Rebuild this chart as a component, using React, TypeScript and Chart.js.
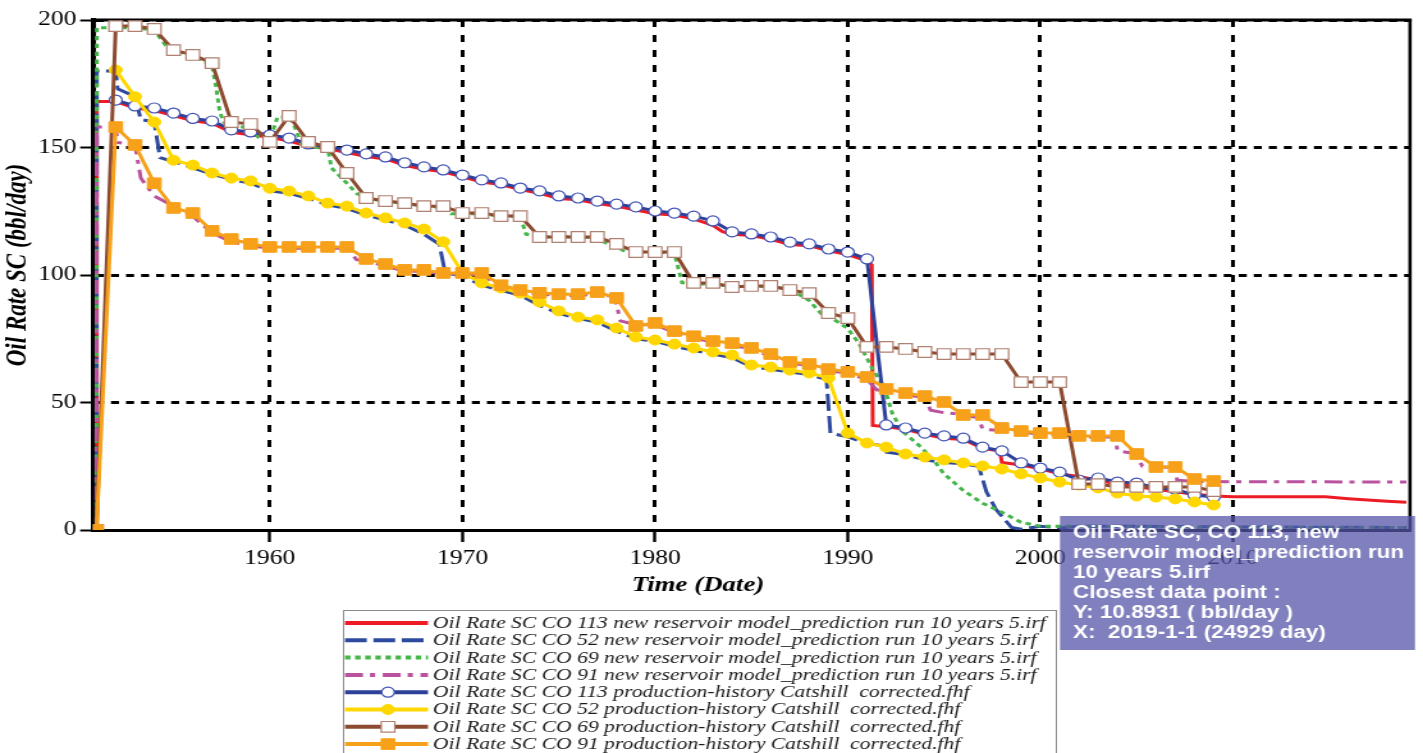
import React, { useEffect, useRef } from 'react';
import { Chart, registerables } from 'chart.js';

Chart.register(...registerables);

// ---------------- data ----------------
const xTickYears = [1960, 1970, 1980, 1990, 2000, 2010];
const yTickValues = [0, 50, 100, 150, 200];

// yearly production-history records (1 Jan of each year)
const historyYears = [
  1952, 1953, 1954, 1955, 1956, 1957, 1958, 1959,
  1960, 1961, 1962, 1963, 1964, 1965, 1966, 1967, 1968, 1969,
  1970, 1971, 1972, 1973, 1974, 1975, 1976, 1977, 1978, 1979,
  1980, 1981, 1982, 1983, 1984, 1985, 1986, 1987, 1988, 1989,
  1990, 1991, 1992, 1993, 1994, 1995, 1996, 1997, 1998, 1999,
  2000, 2001, 2002, 2003, 2004, 2005, 2006, 2007, 2008, 2009,
];
const rampYear = 1951; // zero-rate first record of CO 69 / CO 91 history

const co113History = [
  168.6, 166.3, 165.5, 163.5, 161.4, 160.4, 156.9, 156.1,
  154.9, 153.7, 151.4, 150.2, 149.0, 147.5, 146.3, 144.0, 142.4, 141.2,
  139.2, 137.3, 136.1, 134.1, 133.0, 131.0, 130.2, 129.0, 127.8, 126.7,
  125.1, 124.3, 123.1, 121.2, 116.9, 116.1, 114.9, 112.9, 112.2, 110.2,
  109.0, 106.3, 41.2, 40.0, 38.0, 36.9, 36.0, 32.5, 31.0, 26.3,
  24.3, 22.7, 19.6, 20.4, 18.8, 18.4, 16.5, 16.0, 13.7, 12.9,
];
const co52History = [
  180.4, 169.9, 160.0, 145.0, 143.1, 140.0, 138.0, 136.9,
  134.0, 132.9, 131.0, 128.2, 127.0, 124.3, 122.4, 120.4, 118.0, 113.0,
  100.8, 96.9, 94.9, 92.9, 89.4, 85.9, 83.5, 82.4, 79.2, 75.7,
  74.5, 72.9, 71.4, 69.8, 68.6, 64.7, 63.9, 62.7, 61.6, 59.6,
  38.0, 34.1, 32.5, 29.8, 28.6, 27.5, 26.3, 25.1, 23.9, 22.0,
  20.4, 18.8, 17.6, 16.5, 14.5, 13.3, 12.9, 12.2, 11.0, 9.8,
];
const co69History = [
  0,
  197.6, 197.6, 196.5, 188.2, 186.3, 183.1, 160.0, 159.2,
  152.2, 162.4, 152.2, 150.2, 140.0, 130.2, 129.0, 128.2, 127.0, 127.0,
  124.3, 124.3, 123.1, 123.1, 114.9, 114.9, 114.9, 114.9, 112.2, 109.0,
  109.0, 109.0, 96.9, 96.9, 95.3, 95.7, 95.7, 94.1, 92.9, 85.1,
  83.1, 71.8, 71.8, 71.0, 69.8, 69.0, 69.0, 69.0, 69.0, 58.0,
  58.0, 58.0, 18.0, 18.0, 16.9, 16.9, 16.9, 16.9, 16.9, 15.3,
];
const co91History = [
  0,
  158.0, 151.0, 136.0, 126.3, 124.3, 117.3, 114.1, 112.2,
  111.0, 111.0, 111.0, 111.0, 111.0, 106.3, 104.3, 102.0, 102.0, 100.8,
  100.8, 100.8, 96.0, 94.1, 93.0, 92.5, 92.5, 93.3, 91.0, 80.0,
  81.2, 78.0, 76.0, 74.1, 73.3, 71.4, 69.0, 65.9, 65.1, 63.1,
  62.0, 60.0, 55.3, 53.7, 52.5, 50.2, 45.1, 45.1, 40.0, 38.8,
  38.0, 38.0, 36.9, 36.9, 36.9, 29.8, 24.7, 24.7, 20.0, 19.2,
];

// prediction runs: [year, rate]
const co113Prediction = [
  [1951, 0], [1951.02, 168], [1952, 168], [1953, 165.5], [1954, 164.5], [1955, 162.5], [1956, 160.5],
  [1957, 159.5], [1958, 156], [1959, 155], [1960, 154], [1961, 152.5], [1962, 150.5], [1963, 149.5],
  [1964, 148], [1965, 146.5], [1966, 145.5], [1967, 143], [1968, 141.5], [1969, 140.5], [1970, 138.5],
  [1971, 136.5], [1972, 135.5], [1973, 133.5], [1974, 132], [1975, 130], [1976, 129.5], [1977, 128],
  [1978, 127], [1979, 125.5], [1980, 124], [1981, 123.5], [1982, 122], [1983, 119.5], [1983.5, 117],
  [1984, 116], [1985, 115.5], [1986, 114], [1987, 112], [1988, 111.5], [1989, 109.5], [1990, 108],
  [1991, 105.5], [1991.25, 104], [1991.3, 41], [1992, 40.5], [1993, 39.5], [1994, 37.5], [1995, 36],
  [1996, 35.5], [1997, 32], [1997.9, 31], [1998, 26.5], [1999, 25.5], [2000, 24], [2001, 22], [2002, 21],
  [2003, 19.5], [2004, 18], [2005, 17], [2006, 16], [2007, 15], [2008, 14], [2009, 13.3], [2010, 13],
  [2012, 13], [2014.8, 13], [2016, 12.3], [2017, 11.8], [2018, 11.3], [2019, 10.89],
];
const co52Prediction = [
  [1951, 0], [1951.02, 180], [1952, 180], [1952.1, 173], [1953, 170], [1953.3, 161], [1954, 160],
  [1954.3, 146], [1955, 144.5], [1956, 142], [1957, 139.5], [1958, 137.5], [1959, 136], [1960, 133],
  [1961, 132], [1962, 130], [1963, 127.5], [1964, 126], [1965, 123.5], [1966, 121.5], [1967, 119.5],
  [1968, 116], [1968.8, 112], [1969.1, 101], [1970, 99.5], [1971, 96], [1972, 94], [1973, 92], [1974, 88],
  [1975, 85], [1976, 83], [1977, 81.5], [1978, 78], [1979, 75], [1980, 74], [1981, 72], [1982, 70.5],
  [1983, 69], [1984, 67.5], [1985, 64], [1986, 63], [1987, 62], [1988, 61], [1988.9, 59], [1989.1, 38],
  [1990, 36.5], [1991, 34], [1991.8, 33], [1992, 30.5], [1993, 29.5], [1994, 27.5], [1995, 26.5],
  [1996, 26], [1996.8, 25], [1997.2, 15], [1997.7, 8], [1998.5, 1], [1999, 0.3], [2000, 1.5],
  [2001, 0.8], [2002, 1.5], [2005, 1.5], [2010, 1.2], [2019, 1],
];
const co69Prediction = [
  [1951, 0], [1951.02, 197], [1952, 197], [1953, 197], [1954, 196], [1954.6, 190], [1955, 188],
  [1956, 186], [1957, 182], [1957.2, 174], [1957.4, 164], [1957.6, 160], [1958, 158], [1959, 158],
  [1959.4, 154], [1960, 153], [1960.4, 162], [1961, 162], [1961.3, 158], [1961.7, 150], [1962, 150],
  [1963, 150], [1963.2, 142], [1964, 136], [1964.5, 132], [1965, 130], [1966, 129], [1967, 128],
  [1968, 127], [1969, 126.5], [1969.4, 124], [1970, 124], [1971, 124], [1972, 123], [1973, 123],
  [1973.3, 116], [1974, 115], [1975, 115], [1976, 115], [1977, 114.5], [1977.3, 113], [1978, 111],
  [1978.5, 109], [1979, 109], [1980, 109], [1981, 108.5], [1981.4, 97], [1982, 96.5], [1983, 96.5],
  [1984, 95.5], [1985, 95.5], [1986, 95.5], [1987, 94.5], [1988, 90], [1988.6, 85], [1989, 84],
  [1990, 79], [1990.6, 73], [1991.3, 63], [1991.9, 56], [1992.3, 46], [1992.8, 39], [1993.8, 32.5],
  [1994.5, 27], [1995, 22], [1996, 15.5], [1997, 10.5], [1998, 7], [1998.5, 5], [1999, 3],
  [2000, 1.5], [2001, 1.5], [2010, 1], [2019, 1],
];
const co91Prediction = [
  [1951, 0], [1951.01, 158], [1952, 158], [1952.1, 152], [1953, 151], [1953.3, 138], [1954, 131],
  [1955, 127], [1956, 123], [1957, 116.5], [1958, 113], [1959, 111.5], [1960, 110.5], [1964, 110.5],
  [1964.5, 106], [1965, 105.5], [1966, 103.5], [1967, 101.5], [1968, 101.5], [1969, 100.5],
  [1970, 100.5], [1971, 100], [1972, 95.5], [1973, 93.5], [1974, 92.5], [1975, 92], [1976, 92],
  [1977, 92.5], [1977.9, 91.5], [1978.2, 82], [1979, 80.5], [1980, 80.5], [1981, 77.5], [1982, 75.5],
  [1983, 73.5], [1984, 72.5], [1985, 71], [1986, 68], [1987, 65.5], [1988, 64.5], [1989, 62.5],
  [1990, 61.5], [1991, 59], [1991.5, 55], [1992, 54.5], [1993, 53], [1994, 52], [1994.3, 47],
  [1995, 46], [1995.7, 45.5], [1996.8, 44], [1997, 39.5], [1998, 39], [1999, 38.5], [2000, 37.5],
  [2001, 37.5], [2002, 36.5], [2003.9, 36.5], [2004, 31], [2004.9, 30], [2005.3, 25], [2007, 24.5],
  [2007.1, 19.5], [2008, 19], [2019, 18.8],
];

const seriesLabels = [
  'Oil Rate SC CO 113 new reservoir model_prediction run 10 years 5.irf',
  'Oil Rate SC CO 52 new reservoir model_prediction run 10 years 5.irf',
  'Oil Rate SC CO 69 new reservoir model_prediction run 10 years 5.irf',
  'Oil Rate SC CO 91 new reservoir model_prediction run 10 years 5.irf',
  'Oil Rate SC CO 113 production-history Catshill  corrected.fhf',
  'Oil Rate SC CO 52 production-history Catshill  corrected.fhf',
  'Oil Rate SC CO 69 production-history Catshill  corrected.fhf',
  'Oil Rate SC CO 91 production-history Catshill  corrected.fhf',
];

const tooltipLines = [
  'Oil Rate SC, CO 113, new',
  'reservoir model_prediction run',
  '10 years 5.irf',
  'Closest data point :',
  'Y: 10.8931 ( bbl/day )',
  'X:  2019-1-1 (24929 day)',
];

const xTitle = 'Time (Date)';
const yTitle = 'Oil Rate SC (bbl/day)';

// ---------------- layout (canvas is drawn narrower, then stretched like the reference) ----------------
const CANVAS_W = 1112;
const CANVAS_H = 753;
const SX = 1423 / CANVAS_W;
const rx = (x: number) => x / SX;

const SERIF = '"Liberation Serif", "Times New Roman", serif';
const SANS = '"Liberation Sans", Arial, sans-serif';

const fromPairs = (pairs: number[][]) => pairs.map(([x, y]) => ({ x, y }));
const fromColumns = (xs: number[], ys: number[]) => xs.map((x, i) => ({ x, y: ys[i] }));

const decorPlugin = {
  id: 'decor',
  beforeDatasetsDraw(chart: any) {
    const { ctx, chartArea: a } = chart;
    ctx.save();
    ctx.strokeStyle = '#000';
    ctx.setLineDash([]);
    ctx.lineWidth = 3;
    ctx.beginPath();
    ctx.moveTo(a.left, a.top);
    ctx.lineTo(a.right + 1.3, a.top);
    ctx.stroke();
    ctx.lineWidth = 2.6;
    ctx.beginPath();
    ctx.moveTo(a.right, a.top);
    ctx.lineTo(a.right, a.bottom);
    ctx.stroke();
    ctx.restore();
  },
  afterDraw(chart: any) {
    const { ctx } = chart;
    ctx.save();
    // axis titles
    ctx.fillStyle = '#000';
    ctx.textAlign = 'center';
    ctx.textBaseline = 'middle';
    ctx.font = `italic bold 21px ${SERIF}`;
    ctx.fillText(xTitle, rx(698), 586);
    ctx.save();
    ctx.translate(rx(18), 265);
    ctx.rotate(-Math.PI / 2);
    ctx.font = `italic bold 23px ${SERIF}`;
    ctx.fillText(yTitle, 0, 0);
    ctx.restore();

    // legend
    const lx0 = rx(343);
    const lx1 = rx(1056);
    ctx.strokeStyle = '#8a8a8a';
    ctx.lineWidth = 1;
    ctx.strokeRect(Math.round(lx0) + 0.5, 610.5, Math.round(lx1 - lx0), 200);
    const datasets = chart.data.datasets;
    datasets.forEach((ds: any, i: number) => {
      const y = 623 + i * 17.3;
      ctx.save();
      ctx.strokeStyle = ds.borderColor;
      ctx.lineWidth = 4;
      ctx.setLineDash(ds.legendDash || []);
      ctx.beginPath();
      ctx.moveTo(rx(345), y);
      ctx.lineTo(rx(428), y);
      ctx.stroke();
      ctx.setLineDash([]);
      if (ds.pointRadius > 0) {
        const cx = rx(388);
        const r = ds.pointRadius;
        ctx.fillStyle = ds.pointBackgroundColor;
        ctx.strokeStyle = ds.pointBorderColor;
        ctx.lineWidth = ds.pointBorderWidth;
        ctx.beginPath();
        if (ds.pointStyle === 'rect') {
          const h = r * Math.SQRT1_2;
          ctx.rect(cx - h, y - h, 2 * h, 2 * h);
        } else {
          ctx.arc(cx, y, r, 0, Math.PI * 2);
        }
        ctx.fill();
        ctx.stroke();
      }
      ctx.restore();
      ctx.fillStyle = '#1a1a1a';
      ctx.font = `italic 16.9px ${SERIF}`;
      ctx.textAlign = 'left';
      ctx.textBaseline = 'middle';
      ctx.fillText(ds.label, rx(433), y + 0.5);
    });

    // hover info box
    ctx.fillStyle = 'rgba(86, 86, 168, 0.75)';
    ctx.fillRect(rx(1060), 516, rx(1415) - rx(1060), 134);
    ctx.fillStyle = '#ffffff';
    ctx.font = `bold 17.5px ${SANS}`;
    ctx.textAlign = 'left';
    ctx.textBaseline = 'middle';
    tooltipLines.forEach((t, i) => ctx.fillText(t, rx(1073), 533 + i * 20));
    ctx.restore();
  },
};

const RED = '#ED1C24';
const BLUE_DASH = '#2E4A9E';
const GREEN = '#45B649';
const MAGENTA = '#B9529F';
const NAVY = '#2D4199';
const YELLOW = '#FFD700';
const BROWN = '#8C4B30';
const ORANGE = '#F7A11A';

const blueDash = [17, 5.2];
const greenDash = [4.3, 3.6];
const magentaDash = [14, 5.5, 4, 6];

function buildConfig(): any {
  const base = { fill: false, tension: 0, borderWidth: 3 };
  const datasets = [
    { ...base, label: seriesLabels[0], data: fromPairs(co113Prediction), borderColor: RED, pointRadius: 0, order: 8, borderDash: [], legendDash: [] },
    { ...base, label: seriesLabels[1], data: fromPairs(co52Prediction), borderColor: BLUE_DASH, pointRadius: 0, order: 7, borderDash: blueDash, legendDash: blueDash },
    { ...base, label: seriesLabels[2], data: fromPairs(co69Prediction), borderColor: GREEN, pointRadius: 0, order: 6, borderDash: greenDash, legendDash: greenDash },
    { ...base, label: seriesLabels[3], data: fromPairs(co91Prediction), borderColor: MAGENTA, pointRadius: 0, order: 5, borderDash: magentaDash, legendDash: magentaDash },
    {
      ...base, label: seriesLabels[4], data: fromColumns(historyYears, co113History), borderColor: NAVY, order: 4,
      pointStyle: 'circle', pointRadius: 5, pointBackgroundColor: '#ffffff', pointBorderColor: '#3F51B5', pointBorderWidth: 1.2,
    },
    {
      ...base, label: seriesLabels[5], data: fromColumns(historyYears, co52History), borderColor: YELLOW, order: 3,
      pointStyle: 'circle', pointRadius: 5, pointBackgroundColor: YELLOW, pointBorderColor: YELLOW, pointBorderWidth: 1,
    },
    {
      ...base, label: seriesLabels[6], data: fromColumns([rampYear, ...historyYears], co69History), borderColor: BROWN, order: 2,
      pointStyle: 'rect', pointRadius: 7.5, pointBackgroundColor: '#ffffff', pointBorderColor: '#B08070', pointBorderWidth: 1.2,
    },
    {
      ...base, label: seriesLabels[7], data: fromColumns([rampYear, ...historyYears], co91History), borderColor: ORANGE, order: 1,
      pointStyle: 'rect', pointRadius: 7.5, pointBackgroundColor: ORANGE, pointBorderColor: ORANGE, pointBorderWidth: 1,
    },
  ];

  const tickFont = { family: SERIF, size: 20 };

  return {
    type: 'line',
    data: { datasets },
    plugins: [decorPlugin],
    options: {
      responsive: false,
      maintainAspectRatio: false,
      animation: false,
      events: [],
      devicePixelRatio: 1,
      layout: { padding: { top: 20, right: CANVAS_W - rx(1410), bottom: CANVAS_H - 530 - 40, left: 0 } },
      plugins: { legend: { display: false }, tooltip: { enabled: false }, title: { display: false } },
      scales: {
        x: {
          type: 'linear',
          min: 1950.82,
          max: 2019.19,
          afterFit: (s: any) => { s.height = 40; },
          afterBuildTicks: (s: any) => { s.ticks = xTickYears.map((v) => ({ value: v })); },
          ticks: { callback: (v: any) => String(v), font: tickFont, color: '#000', padding: 5, maxRotation: 0, autoSkip: false },
          grid: { color: '#000', lineWidth: 3, tickLength: 12, tickWidth: 2.4, tickColor: '#000', tickBorderDash: [] },
          border: { display: true, color: '#000', width: 3, dash: [7, 8] },
        },
        y: {
          type: 'linear',
          min: 0,
          max: 200,
          afterFit: (s: any) => { s.width = rx(93); },
          afterBuildTicks: (s: any) => { s.ticks = yTickValues.map((v) => ({ value: v })); },
          ticks: { font: tickFont, color: '#000', padding: 3 },
          grid: { color: '#000', lineWidth: 3, tickLength: 10, tickWidth: 2, tickColor: '#000', tickBorderDash: [] },
          border: { display: true, color: '#000', width: 4, dash: [6.25, 5.5] },
        },
      },
    },
  };
}

export default function App() {
  const canvasRef = useRef<HTMLCanvasElement>(null);
  useEffect(() => {
    document.body.style.margin = '0';
    const chart = new Chart(canvasRef.current as HTMLCanvasElement, buildConfig());
    return () => chart.destroy();
  }, []);
  return (
    <div style={{ position: 'absolute', left: 0, top: 0, width: 1423, height: 753, background: '#ffffff', overflow: 'hidden' }}>
      <canvas
        ref={canvasRef}
        width={CANVAS_W}
        height={CANVAS_H}
        style={{ width: '1423px', height: '753px', display: 'block' }}
      />
    </div>
  );
}
